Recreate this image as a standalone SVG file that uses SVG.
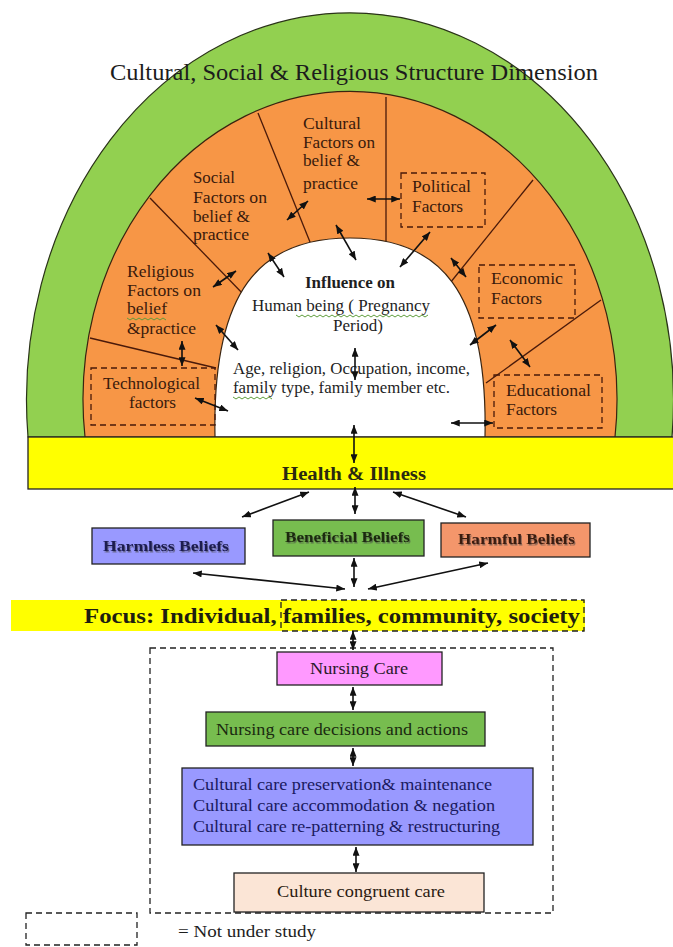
<svg xmlns="http://www.w3.org/2000/svg" width="673" height="947" viewBox="0 0 673 947">
<defs>
<style>
.t{font-family:"Liberation Serif","Times New Roman",serif;}
.or{font-size:16.5px;fill:#3a1a0c;}
.ct{font-size:16px;fill:#1e1e1e;}
.div{stroke:#4a1a0a;stroke-width:1.3;fill:none;}
.dash{fill:none;stroke:#4a1a0a;stroke-width:1.3;stroke-dasharray:6 4;}
.dashk{fill:none;stroke:#222;stroke-width:1.3;stroke-dasharray:6 4;}
.box{stroke:#222;stroke-width:1.3;}
.ar{stroke:#111;stroke-width:1.6;fill:none;marker-start:url(#ah);marker-end:url(#ah);}
.sq{fill:none;stroke:#5f9e3c;stroke-width:1;}
.bb{font-size:14.5px;font-weight:bold;filter:url(#sh);}
.nv{font-size:16px;fill:#1a1a60;}
</style>
<marker id="ah" viewBox="0 0 10 8" refX="10" refY="4" markerWidth="9" markerHeight="7" markerUnits="userSpaceOnUse" orient="auto-start-reverse">
<path d="M0,0 L10,4 L0,8 z" fill="#111"/>
</marker>
<filter id="sh" x="-10%" y="-30%" width="120%" height="160%">
<feDropShadow dx="1" dy="1.5" stdDeviation="0.7" flood-color="#444" flood-opacity="0.6"/>
</filter>
</defs>
<rect x="0" y="0" width="673" height="947" fill="#ffffff"/>

<g id="outer-arc">
<path d="M28,437 A323.5,387 0 1 1 672,437 Z" fill="#92d050" stroke="#2a3318" stroke-width="1.2"/>
<text class="t" x="110" y="80" font-size="23" fill="#1c1c1c" textLength="488" lengthAdjust="spacingAndGlyphs">Cultural, Social &amp; Religious Structure Dimension</text>
</g>

<g id="orange-ring">
<path d="M85,437 A267,308 0 1 1 615,437 Z" fill="#f79646" stroke="#3a2410" stroke-width="1.2"/>
<line class="div" x1="90" y1="338" x2="216" y2="368"/>
<line class="div" x1="150" y1="198" x2="246" y2="297"/>
<line class="div" x1="258" y1="113" x2="312" y2="247"/>
<line class="div" x1="386" y1="97" x2="386" y2="244"/>
<line class="div" x1="533" y1="180" x2="446" y2="288"/>
<line class="div" x1="601" y1="300" x2="486" y2="383"/>
</g>

<g id="inner-white">
<path d="M215,437 C212,290 260,238 350,238 C440,238 488,290 485,437 Z" fill="#ffffff" stroke="#3a2410" stroke-width="1.2"/>
<text class="t ct" x="305" y="288" font-weight="bold" textLength="90" lengthAdjust="spacingAndGlyphs">Influence on</text>
<text class="t ct" x="252" y="311" textLength="178" lengthAdjust="spacingAndGlyphs">Human being ( Pregnancy</text>
<text class="t ct" x="333" y="331" textLength="50" lengthAdjust="spacingAndGlyphs">Period)</text>
<text class="t ct" x="233" y="374" textLength="237" lengthAdjust="spacingAndGlyphs">Age, religion, Occupation, income,</text>
<text class="t ct" x="233" y="393" textLength="217" lengthAdjust="spacingAndGlyphs">family type, family member etc.</text>
<path class="sq" d="M296,315 l3,2 l3,-2 l3,2 l3,-2 l3,2 l3,-2 l3,2 l3,-2 l3,2 l3,-2 l3,2 l3,-2 l3,2 l3,-2 l3,2 l3,-2 l3,2 l3,-2 l3,2 l3,-2 l3,2 l3,-2 l3,2 l3,-2 l3,2 l3,-2 l3,2 l3,-2 l3,2 l3,-2 l3,2 l3,-2 l3,2 l3,-2 l3,2 l3,-2 l3,2 l3,-2 l3,2 l3,-2 l3,2 l3,-2 l3,2 l3,-2"/>
<path class="sq" d="M233,397 l3,2 l3,-2 l3,2 l3,-2 l3,2 l3,-2 l3,2 l3,-2 l3,2 l3,-2 l3,2 l3,-2 l3,2"/>
</g>

<g id="cultural-factors">
<text class="t or" x="303" y="129" textLength="58" lengthAdjust="spacingAndGlyphs">Cultural</text>
<text class="t or" x="303" y="148" textLength="72" lengthAdjust="spacingAndGlyphs">Factors on</text>
<text class="t or" x="303" y="166" textLength="57" lengthAdjust="spacingAndGlyphs">belief &amp;</text>
<text class="t or" x="303" y="189" textLength="55" lengthAdjust="spacingAndGlyphs">practice</text>
</g>

<g id="social-factors">
<text class="t or" x="193" y="183" textLength="42" lengthAdjust="spacingAndGlyphs">Social</text>
<text class="t or" x="193" y="203" textLength="74" lengthAdjust="spacingAndGlyphs">Factors on</text>
<text class="t or" x="193" y="222" textLength="57" lengthAdjust="spacingAndGlyphs">belief &amp;</text>
<text class="t or" x="193" y="240" textLength="56" lengthAdjust="spacingAndGlyphs">practice</text>
</g>

<g id="religious-factors">
<text class="t or" x="127" y="277" textLength="67" lengthAdjust="spacingAndGlyphs">Religious</text>
<text class="t or" x="127" y="296" textLength="74" lengthAdjust="spacingAndGlyphs">Factors on</text>
<text class="t or" x="127" y="314" textLength="40" lengthAdjust="spacingAndGlyphs">belief</text>
<text class="t or" x="127" y="334" textLength="69" lengthAdjust="spacingAndGlyphs">&amp;practice</text>
<path class="sq" d="M127,318 l3,2 l3,-2 l3,2 l3,-2 l3,2 l3,-2 l3,2 l3,-2 l3,2 l3,-2 l3,2 l3,-2 l3,2"/>
</g>

<g id="technological-factors">
<rect class="dash" x="91" y="368" width="124" height="57"/>
<text class="t or" x="103" y="389" textLength="97" lengthAdjust="spacingAndGlyphs">Technological</text>
<text class="t or" x="129" y="408" textLength="47" lengthAdjust="spacingAndGlyphs">factors</text>
</g>

<g id="political-factors">
<rect class="dash" x="401" y="173" width="84" height="54"/>
<text class="t or" x="412" y="192" textLength="59" lengthAdjust="spacingAndGlyphs">Political</text>
<text class="t or" x="412" y="212" textLength="51" lengthAdjust="spacingAndGlyphs">Factors</text>
</g>

<g id="economic-factors">
<rect class="dash" x="479" y="265" width="96" height="53"/>
<text class="t or" x="491" y="284" textLength="72" lengthAdjust="spacingAndGlyphs">Economic</text>
<text class="t or" x="491" y="304" textLength="51" lengthAdjust="spacingAndGlyphs">Factors</text>
</g>

<g id="educational-factors">
<rect class="dash" x="494" y="375" width="108" height="53"/>
<text class="t or" x="506" y="396" textLength="85" lengthAdjust="spacingAndGlyphs">Educational</text>
<text class="t or" x="506" y="415" textLength="51" lengthAdjust="spacingAndGlyphs">Factors</text>
</g>

<g id="health-illness">
<rect class="box" x="28" y="437" width="650" height="52" fill="#ffff00"/>
<text class="t" x="282" y="480" font-size="18.5" font-weight="bold" fill="#2a2a10" textLength="144" lengthAdjust="spacingAndGlyphs">Health &amp; Illness</text>
</g>

<g id="harmless-beliefs">
<rect class="box" x="92" y="528" width="153" height="36" fill="#9999ff"/>
<text class="t bb" x="103" y="551" fill="#1a1a50" textLength="126" lengthAdjust="spacingAndGlyphs">Harmless Beliefs</text>
</g>

<g id="beneficial-beliefs">
<rect class="box" x="273" y="520" width="151" height="36" fill="#77bd4f"/>
<text class="t bb" x="285" y="542" fill="#1a2a10" textLength="125" lengthAdjust="spacingAndGlyphs">Beneficial Beliefs</text>
</g>

<g id="harmful-beliefs">
<rect class="box" x="441" y="523" width="149" height="34" fill="#f4966b"/>
<text class="t bb" x="458" y="544" fill="#3a1a10" textLength="117" lengthAdjust="spacingAndGlyphs">Harmful Beliefs</text>
</g>

<g id="focus">
<rect x="11" y="600" width="574" height="31" fill="#ffff00"/>
<rect class="dashk" x="281" y="600" width="303" height="31"/>
<text class="t" x="84" y="623" font-size="21.5" font-weight="bold" fill="#1e1e10" textLength="496" lengthAdjust="spacingAndGlyphs">Focus: Individual, families, community, society</text>
</g>

<g id="not-under-study-frame">
<rect class="dashk" x="150" y="648" width="403" height="265"/>
</g>

<g id="nursing-care">
<rect class="box" x="277" y="652" width="165" height="33" fill="#ff99ff"/>
<text class="t" x="310" y="674" font-size="17" fill="#2a1a2a" textLength="98" lengthAdjust="spacingAndGlyphs">Nursing Care</text>
</g>

<g id="nursing-decisions">
<rect class="box" x="206" y="712" width="279" height="34" fill="#77bd4f"/>
<text class="t" x="216" y="735" font-size="16" fill="#1a2a10" textLength="252" lengthAdjust="spacingAndGlyphs">Nursing care decisions and actions</text>
</g>

<g id="cultural-care">
<rect class="box" x="182" y="768" width="351" height="77" fill="#9999ff"/>
<text class="t nv" x="193" y="790" textLength="299" lengthAdjust="spacingAndGlyphs">Cultural care preservation&amp; maintenance</text>
<text class="t nv" x="193" y="811" textLength="302" lengthAdjust="spacingAndGlyphs">Cultural care accommodation &amp; negation</text>
<text class="t nv" x="193" y="832" textLength="307" lengthAdjust="spacingAndGlyphs">Cultural care re-patterning &amp; restructuring</text>
</g>

<g id="culture-congruent-care">
<rect class="box" x="234" y="873" width="250" height="39" fill="#fbe5d6"/>
<text class="t" x="277" y="897" font-size="16" fill="#2a1a10" textLength="168" lengthAdjust="spacingAndGlyphs">Culture congruent care</text>
</g>

<g id="legend">
<rect class="dashk" x="26" y="913" width="111" height="32"/>
<text class="t" x="178" y="937" font-size="16" fill="#1e1e1e" textLength="138" lengthAdjust="spacingAndGlyphs">= Not under study</text>
</g>

<g id="connectors">
<line class="ar" x1="182" y1="341" x2="182" y2="366"/>
<line class="ar" x1="195" y1="398" x2="228" y2="411"/>
<line class="ar" x1="216" y1="325" x2="238" y2="350"/>
<line class="ar" x1="213" y1="287" x2="236" y2="271"/>
<line class="ar" x1="268" y1="253" x2="284" y2="277"/>
<line class="ar" x1="287" y1="220" x2="308" y2="201"/>
<line class="ar" x1="336" y1="225" x2="356" y2="260"/>
<line class="ar" x1="367" y1="199" x2="400" y2="199"/>
<line class="ar" x1="430" y1="232" x2="400" y2="267"/>
<line class="ar" x1="451" y1="258" x2="466" y2="277"/>
<line class="ar" x1="496" y1="325" x2="470" y2="345"/>
<line class="ar" x1="510" y1="340" x2="530" y2="367"/>
<line class="ar" x1="451" y1="423" x2="493" y2="423"/>
<line class="ar" x1="355" y1="348" x2="355" y2="380"/>
<line class="ar" x1="354" y1="425" x2="354" y2="463"/>
<line class="ar" x1="242" y1="517" x2="309" y2="492"/>
<line class="ar" x1="355" y1="487" x2="355" y2="514"/>
<line class="ar" x1="393" y1="492" x2="466" y2="517"/>
<line class="ar" x1="193" y1="573" x2="345" y2="589"/>
<line class="ar" x1="354" y1="558" x2="354" y2="587"/>
<line class="ar" x1="368" y1="589" x2="488" y2="563"/>
<line class="ar" x1="353" y1="631" x2="353" y2="650"/>
<line class="ar" x1="353" y1="687" x2="353" y2="710"/>
<line class="ar" x1="353" y1="748" x2="353" y2="766"/>
<line class="ar" x1="356" y1="847" x2="356" y2="872"/>
</g>
</svg>
